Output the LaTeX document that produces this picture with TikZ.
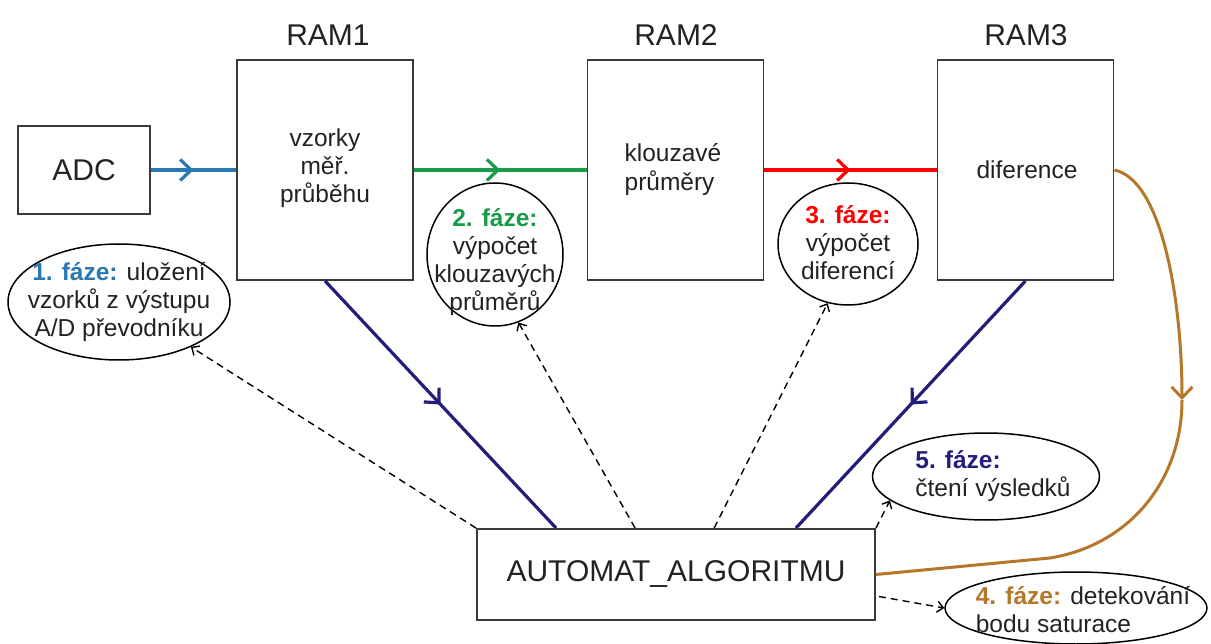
\documentclass[tikz,border=0pt]{standalone}
\usepackage{fontspec}
\setmainfont{Liberation Sans}
\usetikzlibrary{arrows.meta,decorations.markings,shapes.geometric,calc}

\definecolor{boxgray}{HTML}{3A3A3A}
\definecolor{txtdark}{HTML}{222222}
\definecolor{flowblue}{HTML}{2A78B2}
\definecolor{flowgreen}{HTML}{1A9B48}
\definecolor{flowred}{HTML}{FF0000}
\definecolor{flownavy}{HTML}{231E7C}
\definecolor{flowbrown}{HTML}{B5782A}

\tikzset{
  box/.style={draw=boxgray, line width=1.8pt, rectangle, inner sep=0pt, text=txtdark},
  bigtxt/.style={font=\fontsize{30}{34}\selectfont, text=txtdark},
  smalltxt/.style={font=\fontsize{24.5}{28}\selectfont, text=txtdark, inner sep=0pt},
  bubble/.style={draw=black, line width=1.5pt, ellipse, inner sep=0pt},
  chevron/.tip={Straight Barb[length=11pt,width=21pt]},
  flow/.style={line width=3.2pt, postaction={decorate},
    decoration={markings, mark=at position 0.5 with {\arrow{chevron}}}},
  hint/.style={draw=black, line width=1.4pt, dash pattern=on 7pt off 5pt,
    -{Straight Barb[length=6pt,width=11pt]}},
}

\begin{document}
\begin{tikzpicture}[x=1pt,y=-1pt]
\useasboundingbox (0,0) rectangle (1211,644);

% memory blocks and converter
\node[box, minimum width=132, minimum height=88, bigtxt] (adc) at (84,170) {ADC};
\node[box, minimum width=176, minimum height=220] (ram1) at (325,170) {};
\node[box, minimum width=176, minimum height=220] (ram2) at (675.5,170) {};
\node[box, minimum width=176, minimum height=220] (ram3) at (1025.5,170) {};
\node[box, minimum width=398, minimum height=91, bigtxt] (automat) at (676,574.5) {AUTOMAT\_ALGORITMU};

% block titles and contents
\node[bigtxt] (t1) at (328,35) {RAM1};
\node[bigtxt] (t2) at (676,35) {RAM2};
\node[bigtxt] (t3) at (1026,35) {RAM3};
\node[smalltxt, align=center] (c1) at (325,168) {vzorky\\ měř.\\ průběhu};
\node[smalltxt, align=left, font=\fontsize{24.5}{29}\selectfont] (c2) at (673,170) {klouzavé\\ průměry};
\node[smalltxt] (c3) at (1027,170) {diference};

% phase bubbles
\node[bubble, minimum width=222, minimum height=116] (f1) at (119,302) {};
\node[bubble, minimum width=136, minimum height=143] (f2) at (495,254.5) {};
\node[bubble, minimum width=140, minimum height=122] (f3) at (848,244) {};
\node[bubble, minimum width=227, minimum height=87] (f5) at (986,476.5) {};
\node[bubble, minimum width=262, minimum height=72] (f4) at (1076,608) {};

\node[smalltxt, align=center] (f1t) at (119,302) {\textcolor{flowblue}{\textbf{1. fáze:}} uložení\\ vzorků z výstupu\\ A/D převodníku};
\node[smalltxt, align=center] (f2t) at (495,262) {\textcolor{flowgreen}{\textbf{2. fáze:}}\\ výpočet\\ klouzavých\\ průměrů};
\node[smalltxt, align=center] (f3t) at (848,243) {\textcolor{flowred}{\textbf{3. fáze:}}\\ výpočet\\ diferencí};
\node[smalltxt, align=left] (f5t) at (993,476) {\textcolor{flownavy}{\textbf{5. fáze:}}\\ čtení výsledků};
\node[smalltxt, align=left] (f4t) at (1083,610) {\textcolor{flowbrown}{\textbf{4. fáze:}} detekování\\ bodu saturace};

% data flow between blocks
\draw[flow, flowblue] (adc.east) -- (ram1.west);
\draw[flow, flowgreen] (ram1.east) -- (ram2.west);
\draw[flow, flowred] (ram2.east) -- (ram3.west);
\draw[flow, flownavy] (ram1.south) -- ([xshift=80pt]automat.north west);
\draw[flow, flownavy] (ram3.south) -- ([xshift=-80pt]automat.north east);

% saturation feedback from RAM3 to the automaton
\coordinate (bend) at (1182,400);
\coordinate (knee) at (1050,558);
\draw[flowbrown, line width=3pt, -{chevron}]
  (ram3.east) .. controls (1162,180) and (1182,300) .. (bend);
\draw[flowbrown, line width=3pt]
  (bend) .. controls (1182,480) and (1130,545) .. (knee) -- (automat.east);

% control of the phases
\draw[hint] (automat.north west) -- (f1.-32);
\draw[hint] ([xshift=159pt]automat.north west) -- (f2.-71);
\draw[hint] ([xshift=238pt]automat.north west) -- (f3.-109);
\draw[hint] (automat.north east) -- (f5.-166);
\draw[hint] ([xshift=3pt,yshift=-22pt]automat.east) -- (f4.west);
\end{tikzpicture}
\end{document}
